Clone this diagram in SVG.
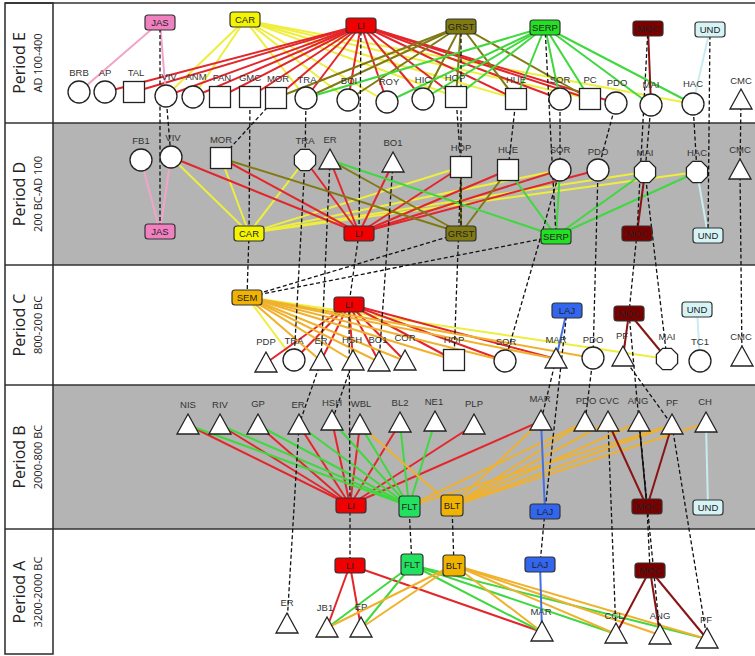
<svg xmlns="http://www.w3.org/2000/svg" xmlns:xlink="http://www.w3.org/1999/xlink" width="755" height="656" viewBox="0 0 755 656">
<style>
.band{fill:#b4b4b4}
.frame{fill:none;stroke:#2a2a2a;stroke-width:1.5}
.sep{stroke:#333;stroke-width:1.5}
.per{font-family:"Open Sans","Liberation Sans",sans-serif;font-size:16px;fill:#222;text-anchor:middle}
.sub{font-family:"Open Sans","Liberation Sans",sans-serif;font-size:11px;fill:#222;text-anchor:middle}
.n{fill:#fff;stroke:#222;stroke-width:1.3}
.lbl{font-family:"Liberation Sans",Arial,sans-serif;font-size:9.5px;fill:#333;text-anchor:middle}
.bt{font-family:"Liberation Sans",Arial,sans-serif;font-size:9.5px;fill:#222;text-anchor:middle}
.bx{stroke:#333;stroke-width:1.2}
.c line{stroke-width:2;fill:none}
.red line{stroke:#e3262b}
.yel line{stroke:#eeee3c}
.olv line{stroke:#7f7a14}
.grn line{stroke:#3fd83f}
.moc line{stroke:#8a1414}
.org line{stroke:#f0b12c}
.blu line{stroke:#4470e6}
.pnk line{stroke:#f2a3c9}
.cyn line{stroke:#c9ecf0}
.dsh line{stroke:#111;stroke-width:1.3;stroke-dasharray:4 2.5}
</style>
<defs>
<polygon id="tri" points="0,-11 11,9 -11,9"/>
<circle id="cir" r="11"/>
<rect id="sq" x="-10.5" y="-10.5" width="21" height="21"/>
<polygon id="oct" points="4.4,-10.6 10.6,-4.4 10.6,4.4 4.4,10.6 -4.4,10.6 -10.6,4.4 -10.6,-4.4 -4.4,-10.6"/>
</defs>

<g id="bands">
<rect x="0" y="0" width="755" height="656" fill="#fff"/>
<rect class="band" x="53" y="123" width="702" height="142"/>
<rect class="band" x="53" y="385" width="702" height="144"/>
<line class="sep" x1="5" y1="3" x2="755" y2="3"/>
<line class="sep" x1="5" y1="123" x2="755" y2="123"/>
<line class="sep" x1="5" y1="265" x2="755" y2="265"/>
<line class="sep" x1="5" y1="385" x2="755" y2="385"/>
<line class="sep" x1="5" y1="529" x2="755" y2="529"/>
<rect class="frame" x="5" y="3" width="48" height="651"/>
<text class="per" transform="translate(25,63) rotate(-90)">Period  E</text>
<text class="sub" transform="translate(42,63) rotate(-90)">AD 100-400</text>
<text class="per" transform="translate(25,194) rotate(-90)">Period  D</text>
<text class="sub" transform="translate(42,194) rotate(-90)">200 BC-AD 100</text>
<text class="per" transform="translate(25,325) rotate(-90)">Period  C</text>
<text class="sub" transform="translate(42,325) rotate(-90)">800-200 BC</text>
<text class="per" transform="translate(25,457) rotate(-90)">Period  B</text>
<text class="sub" transform="translate(42,457) rotate(-90)">2000-800 BC</text>
<text class="per" transform="translate(25,592) rotate(-90)">Period  A</text>
<text class="sub" transform="translate(42,592) rotate(-90)">3200-2000 BC</text>
</g>

<g id="connectors" class="c">
<g class="yel">
<line x1="245" y1="20" x2="166" y2="96"/><line x1="245" y1="20" x2="193" y2="97"/>
<line x1="245" y1="20" x2="306" y2="98"/><line x1="245" y1="20" x2="348" y2="100"/>
<line x1="245" y1="20" x2="387" y2="102"/><line x1="245" y1="20" x2="456" y2="97"/>
<line x1="245" y1="20" x2="516" y2="99"/><line x1="245" y1="20" x2="590" y2="99"/>
<line x1="245" y1="20" x2="693" y2="104"/>
<line x1="249" y1="233" x2="171" y2="157"/><line x1="249" y1="233" x2="221" y2="158"/>
<line x1="249" y1="233" x2="305" y2="160"/><line x1="249" y1="233" x2="461" y2="167"/>
<line x1="249" y1="233" x2="560" y2="170"/><line x1="249" y1="233" x2="645" y2="172"/>
<line x1="249" y1="233" x2="697" y2="172"/>
<line x1="247" y1="297" x2="294" y2="360"/><line x1="247" y1="297" x2="667" y2="359"/>
</g>
<g class="red">
<line x1="361" y1="25" x2="105" y2="92"/><line x1="361" y1="25" x2="134" y2="92"/>
<line x1="361" y1="25" x2="166" y2="96"/><line x1="361" y1="25" x2="193" y2="97"/>
<line x1="361" y1="25" x2="220" y2="97"/><line x1="361" y1="25" x2="250" y2="97"/>
<line x1="361" y1="25" x2="276" y2="98"/><line x1="361" y1="25" x2="306" y2="98"/>
<line x1="361" y1="25" x2="348" y2="100"/><line x1="361" y1="25" x2="387" y2="102"/>
<line x1="361" y1="25" x2="423" y2="99"/><line x1="361" y1="25" x2="456" y2="97"/>
<line x1="361" y1="25" x2="516" y2="99"/><line x1="361" y1="25" x2="560" y2="99"/>
<line x1="361" y1="25" x2="590" y2="99"/><line x1="361" y1="25" x2="616" y2="103"/>
<line x1="359" y1="233" x2="171" y2="157"/><line x1="359" y1="233" x2="221" y2="158"/>
<line x1="359" y1="233" x2="305" y2="160"/><line x1="359" y1="233" x2="330" y2="160"/>
<line x1="359" y1="233" x2="393" y2="163"/><line x1="359" y1="233" x2="461" y2="167"/>
<line x1="359" y1="233" x2="508" y2="170"/><line x1="359" y1="233" x2="560" y2="170"/>
<line x1="359" y1="233" x2="598" y2="170"/>
<line x1="349" y1="304" x2="266" y2="363"/><line x1="349" y1="304" x2="294" y2="360"/>
<line x1="349" y1="304" x2="321" y2="361"/><line x1="349" y1="304" x2="353" y2="361"/>
<line x1="349" y1="304" x2="379" y2="362"/><line x1="349" y1="304" x2="405" y2="361"/>
<line x1="349" y1="304" x2="454" y2="360"/><line x1="349" y1="304" x2="505" y2="361"/>
<line x1="349" y1="304" x2="556" y2="359"/>
<line x1="350" y1="505" x2="188" y2="425"/><line x1="350" y1="505" x2="220" y2="425"/>
<line x1="350" y1="505" x2="258" y2="425"/><line x1="350" y1="505" x2="299" y2="425"/>
<line x1="350" y1="505" x2="332" y2="421"/><line x1="350" y1="505" x2="360" y2="425"/>
<line x1="350" y1="505" x2="400" y2="423"/><line x1="350" y1="505" x2="474" y2="425"/>
<line x1="350" y1="505" x2="541" y2="421"/>
<line x1="350" y1="565" x2="327" y2="628"/><line x1="350" y1="565" x2="361" y2="628"/>
<line x1="350" y1="565" x2="542" y2="632"/>
</g>
<g class="olv">
<line x1="461" y1="26" x2="276" y2="98"/><line x1="461" y1="26" x2="306" y2="98"/>
<line x1="461" y1="26" x2="348" y2="100"/><line x1="461" y1="26" x2="423" y2="99"/>
<line x1="461" y1="26" x2="456" y2="97"/><line x1="461" y1="26" x2="516" y2="99"/>
<line x1="461" y1="26" x2="590" y2="99"/>
<line x1="461" y1="233" x2="221" y2="158"/><line x1="461" y1="233" x2="330" y2="160"/>
<line x1="461" y1="233" x2="461" y2="167"/><line x1="461" y1="233" x2="508" y2="170"/>
</g>
<g class="grn">
<line x1="545" y1="27" x2="306" y2="98"/><line x1="545" y1="27" x2="387" y2="102"/>
<line x1="545" y1="27" x2="423" y2="99"/><line x1="545" y1="27" x2="456" y2="97"/>
<line x1="545" y1="27" x2="516" y2="99"/><line x1="545" y1="27" x2="560" y2="99"/>
<line x1="545" y1="27" x2="590" y2="99"/><line x1="545" y1="27" x2="651" y2="105"/>
<line x1="545" y1="27" x2="693" y2="104"/>
<line x1="556" y1="236" x2="330" y2="160"/><line x1="556" y1="236" x2="508" y2="170"/>
<line x1="556" y1="236" x2="560" y2="170"/><line x1="556" y1="236" x2="645" y2="172"/>
<line x1="556" y1="236" x2="697" y2="172"/>
<line x1="409" y1="506" x2="188" y2="425"/><line x1="409" y1="506" x2="220" y2="425"/>
<line x1="409" y1="506" x2="258" y2="425"/><line x1="409" y1="506" x2="299" y2="425"/>
<line x1="409" y1="506" x2="332" y2="421"/><line x1="409" y1="506" x2="360" y2="425"/>
<line x1="409" y1="506" x2="400" y2="423"/><line x1="409" y1="506" x2="435" y2="422"/>
<line x1="412" y1="565" x2="327" y2="628"/><line x1="412" y1="565" x2="361" y2="628"/>
<line x1="412" y1="565" x2="542" y2="632"/><line x1="412" y1="565" x2="616" y2="634"/>
<line x1="412" y1="565" x2="707" y2="639"/>
</g>
<g class="org">
<line x1="247" y1="297" x2="321" y2="361"/><line x1="247" y1="297" x2="353" y2="361"/>
<line x1="247" y1="297" x2="379" y2="362"/><line x1="247" y1="297" x2="405" y2="361"/>
<line x1="247" y1="297" x2="454" y2="360"/><line x1="247" y1="297" x2="505" y2="361"/>
<line x1="247" y1="297" x2="556" y2="359"/><line x1="247" y1="297" x2="593" y2="358"/>
<line x1="452" y1="506" x2="360" y2="425"/><line x1="452" y1="506" x2="541" y2="421"/>
<line x1="452" y1="506" x2="585" y2="422"/><line x1="452" y1="506" x2="608" y2="422"/>
<line x1="452" y1="506" x2="639" y2="422"/><line x1="452" y1="506" x2="672" y2="425"/>
<line x1="452" y1="506" x2="706" y2="423"/>
<line x1="409" y1="506" x2="585" y2="422"/><line x1="409" y1="506" x2="672" y2="425"/>
<line x1="454" y1="565" x2="327" y2="628"/><line x1="454" y1="565" x2="361" y2="628"/>
<line x1="454" y1="565" x2="542" y2="632"/><line x1="454" y1="565" x2="616" y2="634"/>
<line x1="454" y1="565" x2="660" y2="635"/><line x1="454" y1="565" x2="707" y2="639"/>
</g>
<g class="pnk">
<line x1="160" y1="22" x2="79" y2="92"/><line x1="160" y1="22" x2="166" y2="96"/>
<line x1="160" y1="231" x2="141" y2="160"/><line x1="160" y1="231" x2="171" y2="157"/>
</g>
<g class="moc">
<line x1="648" y1="28" x2="651" y2="105"/>
<line x1="637" y1="233" x2="645" y2="172"/>
<line x1="629" y1="313" x2="623" y2="357"/><line x1="629" y1="313" x2="667" y2="359"/>
<line x1="647" y1="507" x2="608" y2="422"/><line x1="647" y1="507" x2="639" y2="422" style="stroke:#222;stroke-width:1.5"/>
<line x1="647" y1="507" x2="672" y2="425"/>
<line x1="650" y1="570" x2="616" y2="634"/><line x1="650" y1="570" x2="660" y2="635"/>
<line x1="650" y1="570" x2="707" y2="639"/>
</g>
<g class="blu">
<line x1="567" y1="310" x2="556" y2="359"/>
<line x1="545" y1="511" x2="541" y2="421"/>
<line x1="540" y1="564" x2="542" y2="632"/>
</g>
<g class="cyn">
<line x1="710" y1="29" x2="693" y2="104"/>
<line x1="708" y1="235" x2="697" y2="172"/>
<line x1="697" y1="309" x2="700" y2="361"/>
<line x1="708" y1="508" x2="706" y2="423"/>
</g>
<g class="dsh">
<line x1="160" y1="22" x2="160" y2="231"/>
<line x1="166" y1="96" x2="171" y2="157"/>
<line x1="276" y1="98" x2="221" y2="158"/>
<line x1="250" y1="97" x2="249" y2="233"/>
<line x1="306" y1="98" x2="305" y2="160"/>
<line x1="361" y1="25" x2="359" y2="233"/>
<line x1="461" y1="26" x2="461" y2="233"/>
<line x1="456" y1="97" x2="461" y2="167"/>
<line x1="516" y1="99" x2="508" y2="170"/>
<line x1="545" y1="27" x2="556" y2="236"/>
<line x1="560" y1="99" x2="560" y2="170"/>
<line x1="616" y1="103" x2="598" y2="170"/>
<line x1="648" y1="28" x2="637" y2="233"/>
<line x1="651" y1="105" x2="645" y2="172"/>
<line x1="693" y1="104" x2="697" y2="172"/>
<line x1="710" y1="29" x2="708" y2="235"/>
<line x1="741" y1="100" x2="740" y2="170"/>
<line x1="249" y1="233" x2="247" y2="297"/>
<line x1="461" y1="233" x2="247" y2="297"/>
<line x1="556" y1="236" x2="247" y2="297"/>
<line x1="359" y1="233" x2="349" y2="304"/>
<line x1="305" y1="160" x2="294" y2="360"/>
<line x1="330" y1="160" x2="321" y2="361"/>
<line x1="393" y1="163" x2="379" y2="362"/>
<line x1="461" y1="167" x2="454" y2="360"/>
<line x1="560" y1="170" x2="505" y2="361"/>
<line x1="598" y1="170" x2="593" y2="358"/>
<line x1="637" y1="233" x2="629" y2="313"/>
<line x1="645" y1="172" x2="667" y2="359"/>
<line x1="740" y1="170" x2="742" y2="357"/>
<line x1="321" y1="361" x2="299" y2="425"/>
<line x1="353" y1="361" x2="332" y2="421"/>
<line x1="349" y1="304" x2="350" y2="505"/>
<line x1="556" y1="359" x2="541" y2="421"/>
<line x1="567" y1="310" x2="545" y2="511"/>
<line x1="593" y1="358" x2="585" y2="422"/>
<line x1="629" y1="313" x2="647" y2="507"/>
<line x1="623" y1="357" x2="672" y2="425"/>
<line x1="299" y1="425" x2="287" y2="624"/>
<line x1="350" y1="505" x2="350" y2="565"/>
<line x1="409" y1="506" x2="412" y2="565"/>
<line x1="452" y1="506" x2="454" y2="565"/>
<line x1="545" y1="511" x2="540" y2="564"/>
<line x1="608" y1="422" x2="616" y2="634"/>
<line x1="647" y1="507" x2="650" y2="570"/>
<line x1="639" y1="422" x2="660" y2="635"/>
<line x1="672" y1="425" x2="707" y2="639"/>
</g>
</g>

<!-- Period E nodes -->
<g id="E-BRB"><use href="#cir" class="n" x="79" y="92"/><text class="lbl" x="79" y="76">BRB</text></g>
<g id="E-AP"><use href="#cir" class="n" x="105" y="92"/><text class="lbl" x="105" y="76">AP</text></g>
<g id="E-TAL"><use href="#sq" class="n" x="134" y="92"/><text class="lbl" x="136" y="76">TAL</text></g>
<g id="E-VIV"><use href="#cir" class="n" x="166" y="96"/><text class="lbl" x="169" y="80">VIV</text></g>
<g id="E-ANM"><use href="#cir" class="n" x="193" y="97"/><text class="lbl" x="196" y="80">ANM</text></g>
<g id="E-FAN"><use href="#sq" class="n" x="220" y="97"/><text class="lbl" x="222" y="81">FAN</text></g>
<g id="E-GMC"><use href="#sq" class="n" x="250" y="97"/><text class="lbl" x="250" y="81">GMC</text></g>
<g id="E-MOR"><use href="#sq" class="n" x="276" y="98"/><text class="lbl" x="278" y="82">MOR</text></g>
<g id="E-TRA"><use href="#cir" class="n" x="306" y="98"/><text class="lbl" x="307" y="83">TRA</text></g>
<g id="E-BOI"><use href="#cir" class="n" x="348" y="100"/><text class="lbl" x="349" y="84">BOI</text></g>
<g id="E-ROY"><use href="#cir" class="n" x="387" y="102"/><text class="lbl" x="389" y="85">ROY</text></g>
<g id="E-HIC"><use href="#cir" class="n" x="423" y="99"/><text class="lbl" x="423" y="83">HIC</text></g>
<g id="E-HOP"><use href="#sq" class="n" x="456" y="97"/><text class="lbl" x="455" y="81">HOP</text></g>
<g id="E-HUE"><use href="#sq" class="n" x="516" y="99"/><text class="lbl" x="516" y="83">HUE</text></g>
<g id="E-SOR"><use href="#cir" class="n" x="560" y="99"/><text class="lbl" x="560" y="83">SOR</text></g>
<g id="E-PC"><use href="#sq" class="n" x="590" y="99"/><text class="lbl" x="590" y="83">PC</text></g>
<g id="E-PDO"><use href="#cir" class="n" x="616" y="103"/><text class="lbl" x="617" y="86">PDO</text></g>
<g id="E-MAI"><use href="#cir" class="n" x="651" y="105"/><text class="lbl" x="651" y="88">MAI</text></g>
<g id="E-HAC"><use href="#cir" class="n" x="693" y="104"/><text class="lbl" x="693" y="87">HAC</text></g>
<g id="E-CMC"><use href="#tri" class="n" x="741" y="100"/><text class="lbl" x="741" y="84">CMC</text></g>

<g id="E-JAS"><rect class="bx" x="145" y="15" width="30" height="15" rx="3" fill="#f080c0"/><text class="bt" x="160" y="26">JAS</text></g>
<g id="E-CAR"><rect class="bx" x="230" y="12" width="30" height="15" rx="3" fill="#f4f400"/><text class="bt" x="245" y="23">CAR</text></g>
<g id="E-LI"><rect class="bx" x="346" y="18" width="30" height="15" rx="3" fill="#f00000"/><text class="bt" x="361" y="29" fill="#990000">LI</text></g>
<g id="E-GRST"><rect class="bx" x="446" y="19" width="30" height="15" rx="3" fill="#807a10"/><text class="bt" x="461" y="30" fill="#2a2a05">GRST</text></g>
<g id="E-SERP"><rect class="bx" x="530" y="20" width="30" height="15" rx="3" fill="#22e022"/><text class="bt" x="545" y="31" fill="#075a07">SERP</text></g>
<g id="E-MOC"><rect class="bx" x="633" y="21" width="30" height="15" rx="3" fill="#7a0000"/><text class="bt" x="648" y="32" fill="#b01818">MOC</text></g>
<g id="E-UND"><rect class="bx" x="695" y="22" width="30" height="15" rx="3" fill="#d6f4f6"/><text class="bt" x="710" y="33">UND</text></g>

<!-- Period D nodes -->
<g id="D-FB1"><use href="#cir" class="n" x="141" y="160"/><text class="lbl" x="141" y="144">FB1</text></g>
<g id="D-VIV"><use href="#cir" class="n" x="171" y="157"/><text class="lbl" x="173" y="141">VIV</text></g>
<g id="D-MOR"><use href="#sq" class="n" x="221" y="158"/><text class="lbl" x="221" y="143">MOR</text></g>
<g id="D-TRA"><use href="#oct" class="n" x="305" y="160"/><text class="lbl" x="305" y="144">TRA</text></g>
<g id="D-ER"><use href="#tri" class="n" x="330" y="160"/><text class="lbl" x="330" y="143">ER</text></g>
<g id="D-BO1"><use href="#tri" class="n" x="393" y="163"/><text class="lbl" x="393" y="146">BO1</text></g>
<g id="D-HOP"><use href="#sq" class="n" x="461" y="167"/><text class="lbl" x="461" y="151">HOP</text></g>
<g id="D-HUE"><use href="#sq" class="n" x="508" y="170"/><text class="lbl" x="508" y="153">HUE</text></g>
<g id="D-SOR"><use href="#cir" class="n" x="560" y="170"/><text class="lbl" x="560" y="153">SOR</text></g>
<g id="D-PDO"><use href="#cir" class="n" x="598" y="170"/><text class="lbl" x="598" y="155">PDO</text></g>
<g id="D-MAI"><use href="#oct" class="n" x="645" y="172"/><text class="lbl" x="645" y="156">MAI</text></g>
<g id="D-HAC"><use href="#oct" class="n" x="697" y="172"/><text class="lbl" x="697" y="156">HAC</text></g>
<g id="D-CMC"><use href="#tri" class="n" x="740" y="170"/><text class="lbl" x="740" y="153">CMC</text></g>

<g id="D-JAS"><rect class="bx" x="145" y="224" width="30" height="15" rx="3" fill="#f080c0"/><text class="bt" x="160" y="235">JAS</text></g>
<g id="D-CAR"><rect class="bx" x="234" y="226" width="30" height="15" rx="3" fill="#f4f400"/><text class="bt" x="249" y="237">CAR</text></g>
<g id="D-LI"><rect class="bx" x="344" y="226" width="30" height="15" rx="3" fill="#f00000"/><text class="bt" x="359" y="237" fill="#990000">LI</text></g>
<g id="D-GRST"><rect class="bx" x="446" y="226" width="30" height="15" rx="3" fill="#807a10"/><text class="bt" x="461" y="237" fill="#2a2a05">GRST</text></g>
<g id="D-SERP"><rect class="bx" x="541" y="229" width="30" height="15" rx="3" fill="#22e022"/><text class="bt" x="556" y="240" fill="#075a07">SERP</text></g>
<g id="D-MOC"><rect class="bx" x="622" y="226" width="30" height="15" rx="3" fill="#7a0000"/><text class="bt" x="637" y="237" fill="#b01818">MOC</text></g>
<g id="D-UND"><rect class="bx" x="693" y="228" width="30" height="15" rx="3" fill="#d6f4f6"/><text class="bt" x="708" y="239">UND</text></g>

<!-- Period C nodes -->
<g id="C-SEM"><rect class="bx" x="232" y="290" width="30" height="15" rx="3" fill="#f0b400"/><text class="bt" x="247" y="301">SEM</text></g>
<g id="C-LI"><rect class="bx" x="334" y="297" width="30" height="15" rx="3" fill="#f00000"/><text class="bt" x="349" y="308" fill="#990000">LI</text></g>
<g id="C-LAJ"><rect class="bx" x="552" y="303" width="30" height="15" rx="3" fill="#3366ee"/><text class="bt" x="567" y="314" fill="#0a1a66">LAJ</text></g>
<g id="C-MOC"><rect class="bx" x="614" y="306" width="30" height="15" rx="3" fill="#7a0000"/><text class="bt" x="629" y="317" fill="#b01818">MOC</text></g>
<g id="C-UND"><rect class="bx" x="682" y="302" width="30" height="15" rx="3" fill="#d6f4f6"/><text class="bt" x="697" y="313">UND</text></g>
<g id="C-PDP"><use href="#tri" class="n" x="266" y="363"/><text class="lbl" x="266" y="345">PDP</text></g>
<g id="C-TRA"><use href="#cir" class="n" x="294" y="360"/><text class="lbl" x="294" y="344">TRA</text></g>
<g id="C-ER"><use href="#tri" class="n" x="321" y="361"/><text class="lbl" x="321" y="344">ER</text></g>
<g id="C-HSH"><use href="#tri" class="n" x="353" y="361"/><text class="lbl" x="352" y="343">HSH</text></g>
<g id="C-BO1"><use href="#tri" class="n" x="379" y="362"/><text class="lbl" x="378" y="343">BO1</text></g>
<g id="C-COR"><use href="#tri" class="n" x="405" y="361"/><text class="lbl" x="405" y="341">COR</text></g>
<g id="C-HOP"><use href="#sq" class="n" x="454" y="360"/><text class="lbl" x="454" y="343">HOP</text></g>
<g id="C-SOR"><use href="#cir" class="n" x="505" y="361"/><text class="lbl" x="506" y="345">SOR</text></g>
<g id="C-MAR"><use href="#tri" class="n" x="556" y="359"/><text class="lbl" x="556" y="343">MAR</text></g>
<g id="C-PDO"><use href="#cir" class="n" x="593" y="358"/><text class="lbl" x="593" y="343">PDO</text></g>
<g id="C-PF"><use href="#tri" class="n" x="623" y="357"/><text class="lbl" x="622" y="339">PF</text></g>
<g id="C-MAI"><use href="#oct" class="n" x="667" y="359"/><text class="lbl" x="667" y="340">MAI</text></g>
<g id="C-TC1"><use href="#cir" class="n" x="700" y="361"/><text class="lbl" x="700" y="345">TC1</text></g>
<g id="C-CMC"><use href="#tri" class="n" x="742" y="357"/><text class="lbl" x="741" y="340">CMC</text></g>

<!-- Period B nodes -->
<g id="B-NIS"><use href="#tri" class="n" x="188" y="425"/><text class="lbl" x="188" y="408">NIS</text></g>
<g id="B-RIV"><use href="#tri" class="n" x="220" y="425"/><text class="lbl" x="220" y="408">RIV</text></g>
<g id="B-GP"><use href="#tri" class="n" x="258" y="425"/><text class="lbl" x="258" y="407">GP</text></g>
<g id="B-ER"><use href="#tri" class="n" x="299" y="425"/><text class="lbl" x="298" y="408">ER</text></g>
<g id="B-HSH"><use href="#tri" class="n" x="332" y="421"/><text class="lbl" x="332" y="406">HSH</text></g>
<g id="B-WBL"><use href="#tri" class="n" x="360" y="425"/><text class="lbl" x="361" y="407">WBL</text></g>
<g id="B-BL2"><use href="#tri" class="n" x="400" y="423"/><text class="lbl" x="400" y="406">BL2</text></g>
<g id="B-NE1"><use href="#tri" class="n" x="435" y="422"/><text class="lbl" x="434" y="405">NE1</text></g>
<g id="B-PLP"><use href="#tri" class="n" x="474" y="425"/><text class="lbl" x="474" y="407">PLP</text></g>
<g id="B-MAR"><use href="#tri" class="n" x="541" y="421"/><text class="lbl" x="540" y="402">MAR</text></g>
<g id="B-PDO"><use href="#tri" class="n" x="585" y="422"/><text class="lbl" x="586" y="404">PDO</text></g>
<g id="B-CVC"><use href="#tri" class="n" x="608" y="422"/><text class="lbl" x="609" y="404">CVC</text></g>
<g id="B-ANG"><use href="#tri" class="n" x="639" y="422"/><text class="lbl" x="638" y="404">ANG</text></g>
<g id="B-PF"><use href="#tri" class="n" x="672" y="425"/><text class="lbl" x="672" y="406">PF</text></g>
<g id="B-CH"><use href="#tri" class="n" x="706" y="423"/><text class="lbl" x="705" y="405">CH</text></g>
<g id="B-LI"><rect class="bx" x="336" y="498" width="30" height="15" rx="3" fill="#f00000"/><text class="bt" x="351" y="509" fill="#990000">LI</text></g>
<g id="B-FLT"><rect class="bx" x="399" y="496" width="21" height="21" rx="3" fill="#22e060"/><text class="bt" x="409.5" y="510">FLT</text></g>
<g id="B-BLT"><rect class="bx" x="441" y="495" width="22" height="21" rx="3" fill="#f0b400"/><text class="bt" x="452" y="509">BLT</text></g>
<g id="B-LAJ"><rect class="bx" x="530" y="504" width="30" height="15" rx="3" fill="#3366ee"/><text class="bt" x="545" y="515" fill="#0a1a66">LAJ</text></g>
<g id="B-MOC"><rect class="bx" x="632" y="499" width="30" height="15" rx="3" fill="#7a0000"/><text class="bt" x="647" y="510" fill="#b01818">MOC</text></g>
<g id="B-UND"><rect class="bx" x="693" y="500" width="30" height="15" rx="3" fill="#d6f4f6"/><text class="bt" x="708" y="511">UND</text></g>

<!-- Period A nodes -->
<g id="A-LI"><rect class="bx" x="335" y="558" width="30" height="15" rx="3" fill="#f00000"/><text class="bt" x="350" y="569" fill="#990000">LI</text></g>
<g id="A-FLT"><rect class="bx" x="401" y="554" width="22" height="21" rx="3" fill="#22e060"/><text class="bt" x="412" y="568">FLT</text></g>
<g id="A-BLT"><rect class="bx" x="443" y="555" width="22" height="21" rx="3" fill="#f0b400"/><text class="bt" x="454" y="569">BLT</text></g>
<g id="A-LAJ"><rect class="bx" x="525" y="557" width="30" height="15" rx="3" fill="#3366ee"/><text class="bt" x="540" y="568" fill="#0a1a66">LAJ</text></g>
<g id="A-MOC"><rect class="bx" x="635" y="563" width="30" height="15" rx="3" fill="#7a0000"/><text class="bt" x="650" y="574" fill="#b01818">MOC</text></g>
<g id="A-ER"><use href="#tri" class="n" x="287" y="624"/><text class="lbl" x="287" y="606">ER</text></g>
<g id="A-JB1"><use href="#tri" class="n" x="327" y="628"/><text class="lbl" x="325" y="611">JB1</text></g>
<g id="A-EP"><use href="#tri" class="n" x="361" y="628"/><text class="lbl" x="361" y="610">EP</text></g>
<g id="A-MAR"><use href="#tri" class="n" x="542" y="632"/><text class="lbl" x="541" y="615">MAR</text></g>
<g id="A-CCL"><use href="#tri" class="n" x="616" y="634"/><text class="lbl" x="614" y="619">CCL</text></g>
<g id="A-ANG"><use href="#tri" class="n" x="660" y="635"/><text class="lbl" x="660" y="619">ANG</text></g>
<g id="A-PF"><use href="#tri" class="n" x="707" y="639"/><text class="lbl" x="706" y="623">PF</text></g>
</svg>
